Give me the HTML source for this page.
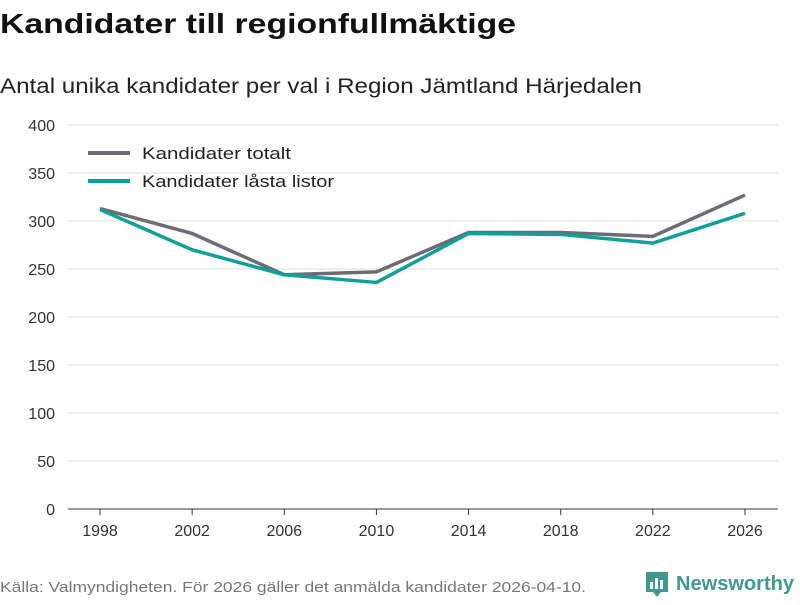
<!DOCTYPE html>
<html><head><meta charset="utf-8"><style>
body{margin:0;width:800px;height:600px;background:#fff;font-family:"Liberation Sans",sans-serif;overflow:hidden}
</style></head><body>
<svg width="800" height="600">
<text x="0" y="33" font-size="28" font-weight="bold" fill="#111" textLength="516" lengthAdjust="spacingAndGlyphs">Kandidater till regionfullmäktige</text>
<text x="0" y="93" font-size="21" fill="#222" textLength="642" lengthAdjust="spacingAndGlyphs">Antal unika kandidater per val i Region Jämtland Härjedalen</text>
<g id="grid"></g>
<g id="xaxis"></g>
<g id="series"></g>
<g>
<line x1="88" y1="153" x2="130" y2="153" stroke="#6d6c72" stroke-width="4"/>
<text x="142" y="159" font-size="17" fill="#222" textLength="149" lengthAdjust="spacingAndGlyphs">Kandidater totalt</text>
<line x1="88" y1="181" x2="130" y2="181" stroke="#0fa197" stroke-width="4"/>
<text x="142" y="187" font-size="17" fill="#222" textLength="192" lengthAdjust="spacingAndGlyphs">Kandidater låsta listor</text>
</g>
<text x="0" y="592" font-size="15" fill="#777" textLength="586" lengthAdjust="spacingAndGlyphs">Källa: Valmyndigheten. För 2026 gäller det anmälda kandidater 2026-04-10.</text>
<g>
<path d="M646 572 h22 v20 h-7 l-4 5 l-4 -5 h-7z" fill="#3d9a8c"/>
<rect x="650" y="582" width="3" height="7" fill="#fff"/><rect x="655" y="578" width="3" height="11" fill="#fff"/><rect x="660" y="580" width="3" height="9" fill="#fff"/>
<text x="676" y="590" font-size="20" font-weight="bold" fill="#3d9a8c" textLength="118" lengthAdjust="spacingAndGlyphs">Newsworthy</text>
</g>
</svg>
<script>
const years=[1998,2002,2006,2010,2014,2018,2022,2026];
const totalt=[313,287,244,247,288,288,284,327];
const lasta=[312,270,244,236,287,286,277,308];
const yTicks=[0,50,100,150,200,250,300,350,400];
const NS="http://www.w3.org/2000/svg";
const xs=y=>100+(y-1998)/28*645;
const ys=v=>509-v*0.96;
const grid=document.getElementById('grid'),xa=document.getElementById('xaxis'),se=document.getElementById('series');
function mk(tag,a,p){const e=document.createElementNS(NS,tag);for(const k in a)e.setAttribute(k,a[k]);p.appendChild(e);return e;}
yTicks.forEach(t=>{
 if(t>0){const l=mk('line',{x1:68,x2:778,y1:ys(t),y2:ys(t),stroke:'#ddd','stroke-width':1},grid);
 
 }
 const tx=mk('text',{x:55,y:ys(t)+6,'font-size':16,fill:'#333','text-anchor':'end'},grid);tx.textContent=t;
 
 
});
const ax=mk('line',{x1:68,x2:778,y1:509,y2:509,stroke:'#333','stroke-width':1},xa);


years.forEach(y=>{
 mk('line',{x1:xs(y),x2:xs(y),y1:509,y2:515,stroke:'#333'},xa);
 const tx=mk('text',{x:xs(y),y:536,'font-size':16,fill:'#333','text-anchor':'middle'},xa);tx.textContent=y;
 
 
});
[[totalt,'#6d6c72','line-totalt'],[lasta,'#0fa197','line-lasta']].forEach(([d,c,n])=>{
 const p=mk('polyline',{points:d.map((v,i)=>xs(years[i])+','+ys(v)).join(' '),fill:'none',stroke:c,'stroke-width':3.5,'stroke-linejoin':'round'},se);
 
 
});
</script>
</body></html>
